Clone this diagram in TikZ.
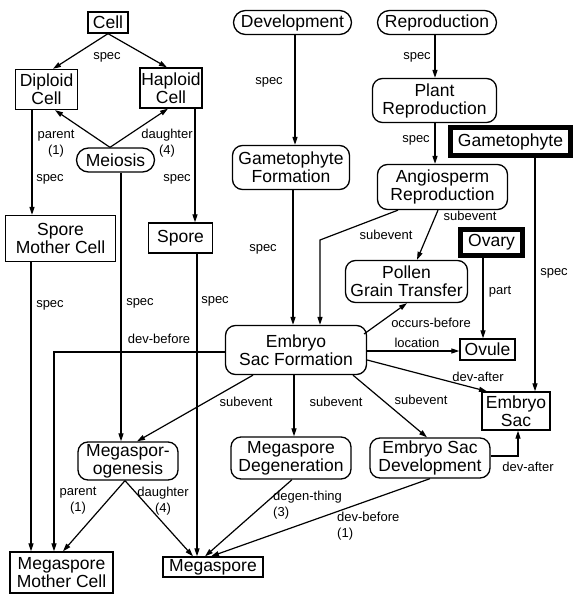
\documentclass[tikz,border=0pt]{standalone}
\usepackage{fontspec}
\setmainfont{Liberation Sans}
\usetikzlibrary{arrows.meta}
\newcommand\nodefnt{\fontsize{17.5}{18}\selectfont}
\newcommand\lblfnt{\fontsize{13}{16}\selectfont}
\begin{document}
\begin{tikzpicture}[x=1pt,y=-1pt,
 box/.style={draw, line width=1.3pt, align=center, inner sep=0pt, font=\nodefnt},
 rbox/.style={box, rounded corners=10pt},
 pill/.style={box, rounded corners=12pt},
 hbox/.style={box, line width=5pt},
 lbl/.style={font=\lblfnt, inner sep=0pt, align=center},
 arr/.style={line width=1.2pt, -{Triangle[length=8pt,width=5pt]}}]
\useasboundingbox (0,0) rectangle (574,594);
% nodes
\node[box, minimum width=40pt, minimum height=21pt] (cell) at (108,22.5) {Cell};
\node[box, minimum width=62pt, minimum height=40pt] (dip) at (46.5,89.5) {Diploid\\Cell};
\node[box, minimum width=62pt, minimum height=40pt] (hap) at (171,88) {Haploid\\Cell};
\node[pill, minimum width=78pt, minimum height=24pt] (mei) at (115.5,160) {Meiosis};
\node[box, minimum width=110pt, minimum height=46pt] (smc) at (60.5,238.5) {Spore\\Mother Cell};
\node[box, minimum width=64pt, minimum height=30pt] (spore) at (180.5,238) {Spore};
\node[pill, minimum width=118pt, minimum height=24pt] (dev) at (292.5,22.5) {Development};
\node[pill, minimum width=119pt, minimum height=24pt] (rep) at (437,22.5) {Reproduction};
\node[rbox, minimum width=124pt, minimum height=44pt] (prep) at (434.5,100.5) {Plant\\Reproduction};
\node[hbox, minimum width=120pt, minimum height=28pt] (gam) at (510.5,141.5) {Gametophyte};
\node[rbox, minimum width=117pt, minimum height=44pt] (gform) at (291,167.5) {Gametophyte\\Formation};
\node[rbox, minimum width=130pt, minimum height=45pt] (angio) at (442.5,187) {Angiosperm\\Reproduction};
\node[hbox, minimum width=62pt, minimum height=26pt] (ovary) at (491.5,242.5) {Ovary};
\node[rbox, minimum width=122pt, minimum height=42pt] (pollen) at (406.5,281.5) {Pollen\\Grain Transfer};
\node[rbox, minimum width=141pt, minimum height=49pt] (esf) at (296,350) {Embryo\\Sac Formation};
\node[box, minimum width=55pt, minimum height=21pt] (ovule) at (487.5,349.5) {Ovule};
\node[box, minimum width=68pt, minimum height=38pt] (esac) at (516,411) {Embryo\\Sac};
\node[rbox, minimum width=100pt, minimum height=38pt] (mgen) at (128,461) {Megaspor-\\ogenesis};
\node[rbox, minimum width=120pt, minimum height=42pt] (mdeg) at (291,458) {Megaspore\\Degeneration};
\node[rbox, minimum width=120pt, minimum height=40pt] (esdev) at (430,458) {Embryo Sac\\Development};
\node[box, minimum width=103pt, minimum height=41pt] (mmc) at (61.5,572.5) {Megaspore\\Mother Cell};
\node[box, minimum width=100pt, minimum height=20pt] (mspore) at (213,567) {Megaspore};
% edges
\draw[arr] (cell.south) -- (53,0 |- dip.north);
\draw[arr] (cell.south) -- (167,0 |- hap.north);
\draw[arr] (110,0 |- mei.north) -- (55,0 |- dip.south);
\draw[arr] (110,0 |- mei.north) -- (168,0 |- hap.south);
\draw[arr] (32,0 |- dip.south) -- (32,0 |- smc.north);
\draw[arr] (195,0 |- hap.south) -- (195,0 |- spore.north);
\draw[arr] (121,0 |- mei.south) -- (121,0 |- mgen.north);
\draw[arr] (31,0 |- smc.south) -- (31,0 |- mmc.north);
\draw[arr] (197,0 |- spore.south) -- (197,0 |- mspore.north);
\draw[arr] (esf.west |- 0,352) -- (54,352) -- (54,0 |- mmc.north);
\draw[arr] (295,0 |- dev.south) -- (295,0 |- gform.north);
\draw[arr] (435,0 |- rep.south) -- (435,0 |- prep.north);
\draw[arr] (435,0 |- prep.south) -- (435,0 |- angio.north);
\draw[arr] (293,0 |- gform.south) -- (293,0 |- esf.north);
\draw[arr] (398,0 |- angio.south) -- (320,240) -- (320,0 |- esf.north);
\draw[arr] (438,0 |- angio.south) -- (417,0 |- pollen.north);
\draw[arr] (535,0 |- gam.south) -- (535,0 |- esac.north);
\draw[arr] (483,0 |- ovary.south) -- (483,0 |- ovule.north);
\draw[arr] (364,334) -- (407,0 |- pollen.south);
\draw[arr] (esf.east |- 0,351) -- (ovule.west |- 0,351);
\draw[arr] (esf.east |- 0,360) -- (487,0 |- esac.north);
\draw[arr] (253,0 |- esf.south) -- (137,0 |- mgen.north);
\draw[arr] (294,0 |- esf.south) -- (294,0 |- mdeg.north);
\draw[arr] (353,0 |- esf.south) -- (427,0 |- esdev.north);
\draw[arr] (esdev.east |- 0,456) -- (518,456) -- (518,0 |- esac.south);
\draw[arr] (125,0 |- mgen.south) -- (63,0 |- mmc.north);
\draw[arr] (125,0 |- mgen.south) -- (193,0 |- mspore.north);
\draw[arr] (292,0 |- mdeg.south) -- (205,0 |- mspore.north);
\draw[arr] (430,0 |- esdev.south) -- (211,0 |- mspore.north);
% labels
\node[lbl] (l1) at (107,57) {spec};
\node[lbl] (l2) at (56,143.5) {parent\\(1)};
\node[lbl] (l3) at (167,143.5) {daughter\\(4)};
\node[lbl] (l4) at (50,179) {spec};
\node[lbl] (l5) at (177,179) {spec};
\node[lbl] (l6) at (140,303) {spec};
\node[lbl] (l7) at (50,305) {spec};
\node[lbl] (l8) at (215,301) {spec};
\node[lbl] (l9) at (159,339) {dev-before};
\node[lbl] (l10) at (269,82) {spec};
\node[lbl] (l11) at (417,57) {spec};
\node[lbl] (l12) at (416,140) {spec};
\node[lbl] (l13) at (263,249) {spec};
\node[lbl] (l14) at (386,235) {subevent};
\node[lbl] (l15) at (470,216) {subevent};
\node[lbl] (l16) at (554,273) {spec};
\node[lbl] (l17) at (500,292) {part};
\node[lbl] (l18) at (431,323) {occurs-before};
\node[lbl] (l19) at (417,343) {location};
\node[lbl] (l20) at (478,377) {dev-after};
\node[lbl] (l21) at (246,402) {subevent};
\node[lbl] (l22) at (336,402) {subevent};
\node[lbl] (l23) at (421,400) {subevent};
\node[lbl] (l24) at (528,467) {dev-after};
\node[lbl] (l25) at (78,501) {parent\\(1)};
\node[lbl] (l26) at (163,501) {daughter\\(4)};
\node[lbl, align=left, anchor=west] (l27) at (273,505.5) {degen-thing\\(3)};
\node[lbl, align=left, anchor=west] (l28) at (337,526) {dev-before\\(1)};
\end{tikzpicture}
\end{document}
